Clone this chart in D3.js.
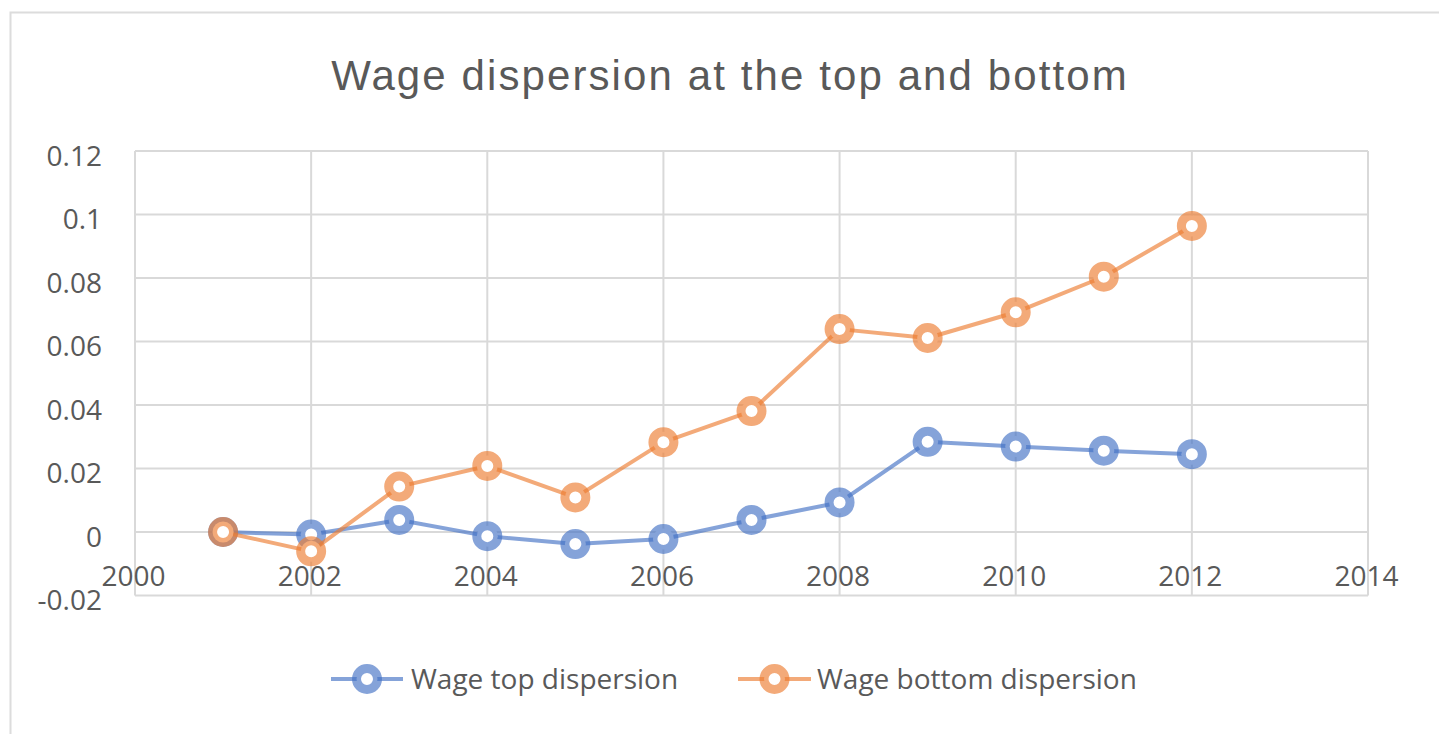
<!DOCTYPE html>
<html>
<head>
<meta charset="utf-8">
<script src="https://cdn.jsdelivr.net/npm/d3@7"></script>
<style>
  html, body { margin: 0; padding: 0; background: #ffffff; }
  svg { display: block; }
</style>
</head>
<body>
<svg id="chart" width="1439" height="734"></svg>
<script>
// ---- data ----
const years = [2001, 2002, 2003, 2004, 2005, 2006, 2007, 2008, 2009, 2010, 2011, 2012];
const topDispersion = [0, -0.0008, 0.0038, -0.0013, -0.0038, -0.0022, 0.0038, 0.0093, 0.0284, 0.0269, 0.0256, 0.0245];
const bottomDispersion = [0, -0.0061, 0.0143, 0.0208, 0.0109, 0.0283, 0.0381, 0.0639, 0.0611, 0.0692, 0.0804, 0.0964];
const seriesNames = ["Wage top dispersion", "Wage bottom dispersion"];
const xTicks = [2000, 2002, 2004, 2006, 2008, 2010, 2012, 2014];
const xTickLabels = ["2000", "2002", "2004", "2006", "2008", "2010", "2012", "2014"];
const yTicks = [-0.02, 0, 0.02, 0.04, 0.06, 0.08, 0.1, 0.12];
const yTickLabels = ["-0.02", "0", "0.02", "0.04", "0.06", "0.08", "0.1", "0.12"];
const titleText = "Wage dispersion at the top and bottom";

// ---- layout ----
const svg = d3.select("#chart");
const plot = { left: 135, right: 1368, top: 151, bottom: 595.5 };
const colors = ["#4472C4", "#ED7D31"];
const alpha = 0.65;
const textColor = "#595959";
const gridColor = "#d9d9d9";
const tickFont = "'Open Sans', 'Noto Sans', sans-serif";

const x = d3.scaleLinear().domain([2000, 2014]).range([plot.left, plot.right]);
const y = d3.scaleLinear().domain([-0.02, 0.12]).range([plot.bottom, plot.top]);

// outer chart frame
svg.append("rect")
  .attr("x", 10.5).attr("y", 12.5)
  .attr("width", 1460).attr("height", 760)
  .attr("fill", "#ffffff")
  .attr("stroke", "#dcdcdc").attr("stroke-width", 2);

// title
svg.append("text")
  .attr("x", 730).attr("y", 90)
  .attr("text-anchor", "middle")
  .attr("font-family", "'Liberation Sans', Arial, sans-serif")
  .attr("font-size", 42)
  .attr("letter-spacing", 2.1)
  .attr("fill", textColor)
  .text(titleText);

// gridlines
const grid = svg.append("g");
grid.selectAll("line.v").data(xTicks).join("line")
  .attr("x1", d => x(d)).attr("x2", d => x(d))
  .attr("y1", plot.top).attr("y2", plot.bottom)
  .attr("stroke", gridColor).attr("stroke-width", 2);
grid.selectAll("line.h").data(yTicks).join("line")
  .attr("x1", plot.left).attr("x2", plot.right)
  .attr("y1", d => y(d)).attr("y2", d => y(d))
  .attr("stroke", gridColor).attr("stroke-width", 2);

// y axis labels
const yAxis = svg.append("g")
  .attr("transform", `translate(${plot.left},0)`)
  .call(d3.axisLeft(y).tickValues(yTicks).tickSize(0).tickPadding(33)
    .tickFormat((d, i) => yTickLabels[i]));
yAxis.select(".domain").remove();
yAxis.selectAll("text")
  .attr("dy", "0.5em")
  .attr("font-family", tickFont).attr("font-size", 28).attr("fill", textColor);

// x axis labels (axis crosses at 0)
const xAxis = svg.append("g")
  .attr("transform", `translate(0,${y(0)})`)
  .call(d3.axisBottom(x).tickValues(xTicks).tickSize(0).tickPadding(34)
    .tickFormat((d, i) => xTickLabels[i]));
xAxis.select(".domain").remove();
xAxis.selectAll("text")
  .attr("font-family", tickFont).attr("font-size", 28).attr("fill", textColor)
  .attr("dx", -2);

// series
const seriesData = [topDispersion, bottomDispersion];
const line = d3.line().x(d => x(d[0])).y(d => y(d[1]));
seriesData.forEach((vals, si) => {
  const pts = years.map((yr, i) => [yr, vals[i]]);
  const g = svg.append("g");
  g.append("path")
    .datum(pts)
    .attr("d", line)
    .attr("fill", "none")
    .attr("stroke", colors[si])
    .attr("stroke-opacity", alpha)
    .attr("stroke-width", 4)
    .attr("stroke-linejoin", "round");
  g.selectAll("circle").data(pts).join("circle")
    .attr("cx", d => x(d[0])).attr("cy", d => y(d[1]))
    .attr("r", 10.5)
    .attr("fill", "#ffffff")
    .attr("stroke", colors[si])
    .attr("stroke-opacity", alpha)
    .attr("stroke-width", 9);
});

// legend
const legendY = 679;
const legendItems = [
  { x1: 331, x2: 403, cx: 367, tx: 411 },
  { x1: 738, x2: 811, cx: 774.5, tx: 817 }
];
legendItems.forEach((it, i) => {
  const g = svg.append("g");
  g.append("line")
    .attr("x1", it.x1).attr("x2", it.x2)
    .attr("y1", legendY).attr("y2", legendY)
    .attr("stroke", colors[i]).attr("stroke-opacity", alpha)
    .attr("stroke-width", 4);
  g.append("circle")
    .attr("cx", it.cx).attr("cy", legendY).attr("r", 10.5)
    .attr("fill", "#ffffff")
    .attr("stroke", colors[i]).attr("stroke-opacity", alpha)
    .attr("stroke-width", 9);
  g.append("text")
    .attr("x", it.tx).attr("y", legendY)
    .attr("dy", "0.36em")
    .attr("font-family", tickFont).attr("font-size", 28).attr("fill", textColor)
    .text(seriesNames[i]);
});
</script>
</body>
</html>
